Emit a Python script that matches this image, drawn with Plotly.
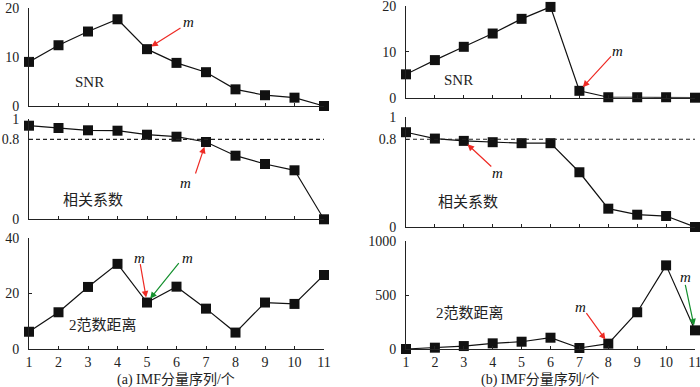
import plotly.graph_objects as go

W, H = 700, 387
imf = list(range(1, 12))
x_ticks = [str(i) for i in imf]

snr_a = [9.0, 12.4, 15.2, 17.7, 11.6, 8.8, 6.9, 3.4, 2.2, 1.7, 0.0]
corr_a = [0.936, 0.913, 0.89, 0.886, 0.846, 0.826, 0.773, 0.636, 0.553, 0.49, 0.0]
dist_a = [6.2, 13.2, 22.3, 30.6, 16.7, 22.4, 14.5, 5.9, 16.7, 16.2, 26.6]

snr_b = [5.1, 8.2, 11.1, 14.0, 17.2, 19.8, 1.5, 0.1, 0.1, 0.1, 0.0]
corr_b = [0.864, 0.806, 0.785, 0.773, 0.764, 0.764, 0.499, 0.167, 0.112, 0.1, 0.0]
dist_b = [3, 15, 30, 55, 70, 107, 12, 52, 342, 775, 175]

threshold = 0.8

FONT = "Liberation Serif, Times New Roman, Noto Sans CJK SC, serif"

def px(x):
    return x / W

def py(y):
    return 1 - y / H

# (series, x-domain px, y-domain px (top,bottom), y range, y ticks, label, label pos, show xlabels)
panels = [
    (snr_a, (29, 324), (8, 106), [0, 20], [0, 10, 20], "SNR", (90, 82), False),
    (corr_a, (29, 324), (119.3, 219.3), [0, 1], [0, 0.8, 1], "相关系数", (93, 200), False),
    (dist_a, (29, 324), (237.7, 349), [0, 40], [0, 20, 40], "2范数距离", (103, 325), True),
    (snr_b, (406, 695), (6, 97.7), [0, 20], [0, 10, 20], "SNR", (458, 80), False),
    (corr_b, (406, 695), (117.3, 227), [0, 1], [0, 0.8, 1], "相关系数", (468, 202), False),
    (dist_b, (406, 695), (241, 349.3), [0, 1000], [0, 500, 1000], "2范数距离", (470, 313), True),
]

fig = go.Figure()
layout = {}
annotations = []
shapes = []

for i, (vals, xd, yd, yr, yt, label, lpos, showx) in enumerate(panels, start=1):
    sfx = "" if i == 1 else str(i)
    fig.add_trace(go.Scatter(
        x=imf, y=vals, xaxis="x" + sfx, yaxis="y" + sfx,
        mode="lines+markers",
        line=dict(color="#111111", width=1.2),
        marker=dict(symbol="square", size=10, color="#111111"),
        cliponaxis=False, showlegend=False, hoverinfo="x+y",
    ))
    layout["xaxis" + sfx] = dict(
        domain=[px(xd[0]), px(xd[1])], range=[1, 11], anchor="y" + sfx,
        tickmode="array", tickvals=imf, ticktext=x_ticks, automargin=False,
        showticklabels=showx, ticks="inside", ticklen=3, tickcolor="#222",
        ticklabeloverflow="allow",
        showline=True, linecolor="#222", linewidth=1, showgrid=False, zeroline=False,
        tickfont=dict(family=FONT, size=14, color="#222"),
    )
    tt = [("0.8" if v == 0.8 else str(v)) for v in yt]
    layout["yaxis" + sfx] = dict(
        domain=[py(yd[1]), py(yd[0])], range=yr, anchor="x" + sfx,
        tickmode="array", tickvals=yt, ticktext=tt, automargin=False,
        ticks="inside", ticklen=3, tickcolor="#222", ticklabelstandoff=6,
        ticklabeloverflow="allow",
        showline=True, linecolor="#222", linewidth=1, showgrid=False, zeroline=False,
        tickfont=dict(family=FONT, size=14, color="#222"),
    )
    annotations.append(dict(
        x=px(lpos[0]), y=py(lpos[1]), xref="paper", yref="paper",
        text=label, showarrow=False, xanchor="center", yanchor="middle",
        font=dict(family=FONT, size=15, color="#222"),
    ))
    if yr == [0, 1]:
        shapes.append(dict(
            type="line", xref="x" + sfx, yref="y" + sfx,
            x0=1, x1=11, y0=threshold, y1=threshold,
            line=dict(color="#222", width=1.2, dash="4px,3px"),
        ))

RED = "#ee2a24"
GREEN = "#14902e"

# arrows: (axis index, point index, ax, ay, color)
arrows = [
    (1, 5, 35, -22, RED),
    (2, 7, -11, 33, RED),
    (3, 5, -7, -40, RED),
    (3, 5, 33, -41, GREEN),
    (4, 7, 33, -36, RED),
    (5, 3, 29, 27, RED),
    (6, 8, -23, -32, RED),
    (6, 11, -10, -47, GREEN),
]
series_list = [p[0] for p in panels]
for ax_i, pt, dx, dy, col in arrows:
    sfx = "" if ax_i == 1 else str(ax_i)
    annotations.append(dict(
        x=pt, y=series_list[ax_i - 1][pt - 1], xref="x" + sfx, yref="y" + sfx,
        ax=dx, ay=dy, showarrow=True, arrowhead=2, arrowsize=1.1, arrowwidth=1.2,
        arrowcolor=col, standoff=5, text="",
    ))

m_labels = [(188, 22), (185, 183), (139, 258), (187, 258),
            (617, 51), (497, 173), (580, 307), (685, 277)]
for mx, my in m_labels:
    annotations.append(dict(
        x=px(mx), y=py(my), xref="paper", yref="paper", text="<i>m</i>",
        showarrow=False, xanchor="center", yanchor="middle",
        font=dict(family=FONT, size=15, color="#111"),
    ))

for cx, txt in [(176, "(a) IMF分量序列/个"), (540, "(b) IMF分量序列/个")]:
    annotations.append(dict(
        x=px(cx), y=py(380), xref="paper", yref="paper", text=txt,
        showarrow=False, xanchor="center", yanchor="middle",
        font=dict(family=FONT, size=14, color="#222"),
    ))

fig.update_layout(
    width=W, height=H, margin=dict(l=0, r=0, t=0, b=0, autoexpand=False),
    paper_bgcolor="white", plot_bgcolor="white",
    annotations=annotations, shapes=shapes, showlegend=False,
    **layout,
)

fig.write_html(
    "out.html",
    config={"displayModeBar": False},
    post_script="document.body.style.margin='0';document.body.style.overflow='hidden';",
)
